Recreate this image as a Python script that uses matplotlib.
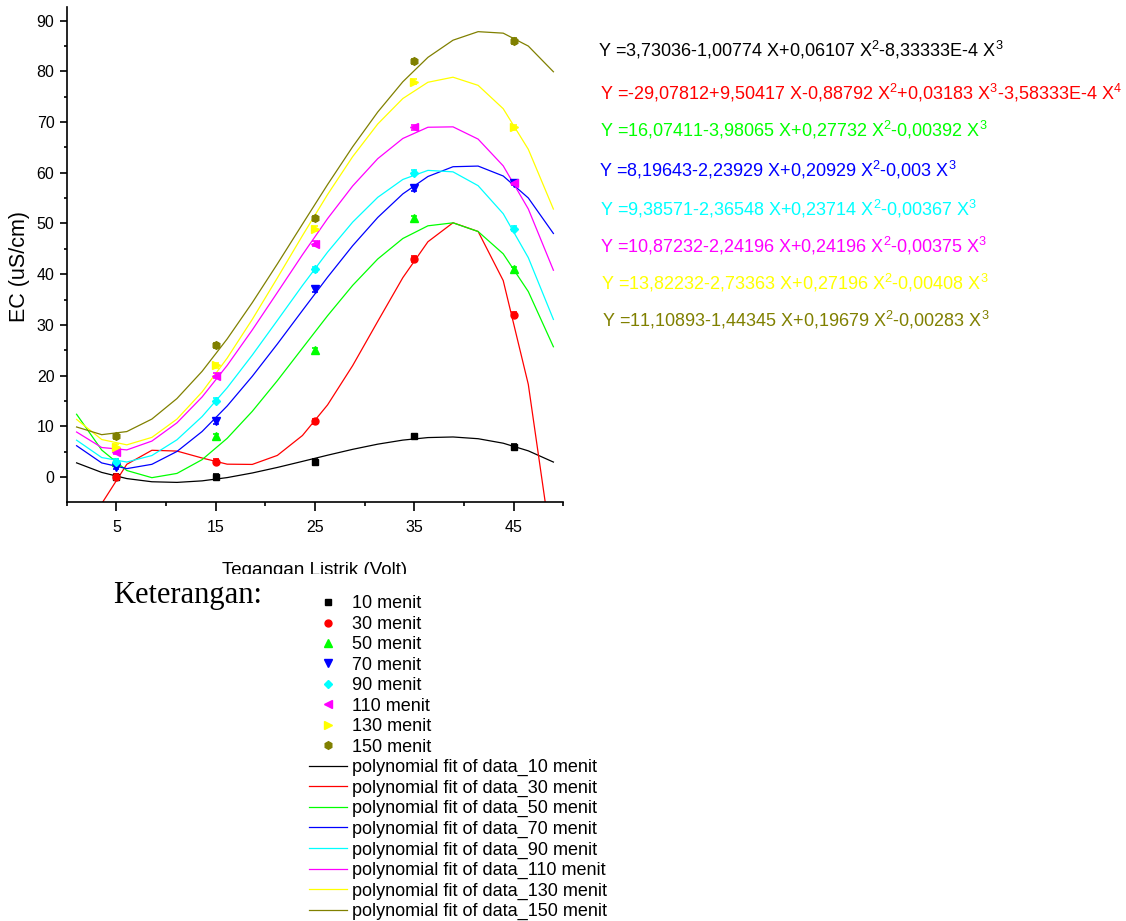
import numpy as np
import matplotlib
matplotlib.use("Agg")
import matplotlib.pyplot as plt
from matplotlib.ticker import FixedLocator
from matplotlib.transforms import Bbox

plt.rcParams['font.family'] = ['Liberation Sans', 'DejaVu Sans']
plt.rcParams['mathtext.default'] = 'regular'

# data: tegangan (volt) vs EC (uS/cm) for each waktu
voltage = [5, 15, 25, 35, 45]
ec_10 = [0, 0, 3, 8, 6]
ec_30 = [0, 3, 11, 43, 32]
ec_50 = [3, 8, 25, 51, 41]
ec_70 = [2, 11, 37, 57, 58]
ec_90 = [3, 15, 41, 60, 49]
ec_110 = [5, 20, 46, 69, 58]
ec_130 = [6, 22, 49, 78, 69]
ec_150 = [8, 26, 51, 82, 86]
ec_err = [0.5, 0.5, 0.5, 0.5, 0.5]

# polynomial coefficients (ascending order) as printed on the chart
coef_10 = [3.73036, -1.00774, 0.06107, -8.33333e-4]
coef_30 = [-29.07812, 9.50417, -0.88792, 0.03183, -3.58333e-4]
coef_50 = [16.07411, -3.98065, 0.27732, -0.00392]
coef_70 = [8.19643, -2.23929, 0.20929, -0.003]
coef_90 = [9.38571, -2.36548, 0.23714, -0.00367]
coef_110 = [10.87232, -2.24196, 0.24196, -0.00375]
coef_130 = [13.82232, -2.73363, 0.27196, -0.00408]
coef_150 = [11.10893, -1.44345, 0.19679, -0.00283]

labels = ['10 menit', '30 menit', '50 menit', '70 menit',
          '90 menit', '110 menit', '130 menit', '150 menit']

equations = [
    'Y =3,73036-1,00774 X+0,06107 X$^2$-8,33333E-4 X$^3$',
    'Y =-29,07812+9,50417 X-0,88792 X$^2$+0,03183 X$^3$-3,58333E-4 X$^4$',
    'Y =16,07411-3,98065 X+0,27732 X$^2$-0,00392 X$^3$',
    'Y =8,19643-2,23929 X+0,20929 X$^2$-0,003 X$^3$',
    'Y =9,38571-2,36548 X+0,23714 X$^2$-0,00367 X$^3$',
    'Y =10,87232-2,24196 X+0,24196 X$^2$-0,00375 X$^3$',
    'Y =13,82232-2,73363 X+0,27196 X$^2$-0,00408 X$^3$',
    'Y =11,10893-1,44345 X+0,19679 X$^2$-0,00283 X$^3$',
]

series = [ec_10, ec_30, ec_50, ec_70, ec_90, ec_110, ec_130, ec_150]
coefs = [coef_10, coef_30, coef_50, coef_70, coef_90, coef_110, coef_130, coef_150]
colors = ['#000000', '#ff0000', '#00ff00', '#0000ff',
          '#00ffff', '#ff00ff', '#ffff00', '#808000']
markers = ['s', 'o', '^', 'v', 'D', '<', '>', 'h']
msizes = [4.5, 5, 5.5, 5.5, 4.5, 5.5, 5.5, 5.5]

# where the fitted curves are drawn
fit_x = np.linspace(1, 49, 20)

fig = plt.figure(figsize=(11.26, 9.21), dpi=100)
ax = fig.add_axes([0.0592, 0.4546, 0.4411, 0.5378])

point_handles = []
line_handles = []
for ys, cf, col in zip(series, coefs, colors):
    fit_y = np.polynomial.polynomial.polyval(fit_x, cf)
    ln, = ax.plot(fit_x, fit_y, color=col, lw=0.9, zorder=2)
    line_handles.append(ln)

for ys, col, mk, ms in zip(series, colors, markers, msizes):
    ax.errorbar(voltage, ys, yerr=ec_err, fmt='none', ecolor=col,
                elinewidth=1.2, capsize=2.5, capthick=1.2, zorder=3)
    pt, = ax.plot(voltage, ys, linestyle='none', marker=mk, ms=ms,
                  color=col, mec=col, zorder=4)
    point_handles.append(pt)

ax.set_xlim(0, 50)
ax.set_ylim(-5, 92.7)
ax.set_xticks([5, 15, 25, 35, 45])
ax.xaxis.set_minor_locator(FixedLocator([0, 10, 20, 30, 40, 50]))
ax.set_yticks(range(0, 91, 10))
ax.yaxis.set_minor_locator(FixedLocator(range(5, 90, 10)))
for s in ['top', 'right']:
    ax.spines[s].set_visible(False)
for s in ['left', 'bottom']:
    ax.spines[s].set_linewidth(1.2)
ax.tick_params(axis='x', which='major', length=6.7, width=1.2, pad=6, labelsize=11.5)
ax.tick_params(axis='x', which='minor', length=3.1, width=1.2)
ax.tick_params(axis='y', which='major', length=4.8, width=1.2, pad=4, labelsize=11.5)
ax.tick_params(axis='y', which='minor', length=2.4, width=1.2)

W, H = 1126, 921
fig.text(20 / W, 1 - 266 / H, 'EC (uS/cm)', rotation=90, ha='center', va='center',
         fontsize=15.5)

xl = fig.text(314.5 / W, 1 - 575 / H, 'Tegangan Listrik (Volt)', ha='center',
              va='baseline', fontsize=13.5)
xl.set_clip_box(Bbox([[0, H - 574], [W, H]]))
xl.set_clip_on(True)

# persamaan regresi
eq_x = [597.7, 600, 600, 599, 600, 600, 601, 602]
eq_base = [56.7, 99, 136.7, 176.7, 215.7, 252.3, 289, 326.7]
for txt, col, ex, eb in zip(equations, colors, eq_x, eq_base):
    fig.text(ex / W, 1 - eb / H, txt, color=col, fontsize=13, va='baseline', ha='left')

fig.text(113 / W, 1 - 603.5 / H, 'Keterangan:', fontsize=22, va='baseline',
         family=['Liberation Serif', 'DejaVu Serif'])

fig.legend(point_handles + line_handles,
           labels + ['polynomial fit of data_' + l for l in labels],
           loc='upper left', bbox_to_anchor=(309 / W, 1 - 595.5 / H),
           frameon=False, borderpad=0, borderaxespad=0,
           handlelength=2.1, handletextpad=0.28, labelspacing=0.19,
           prop={'size': 13})

fig.savefig('out.png', dpi=100)
